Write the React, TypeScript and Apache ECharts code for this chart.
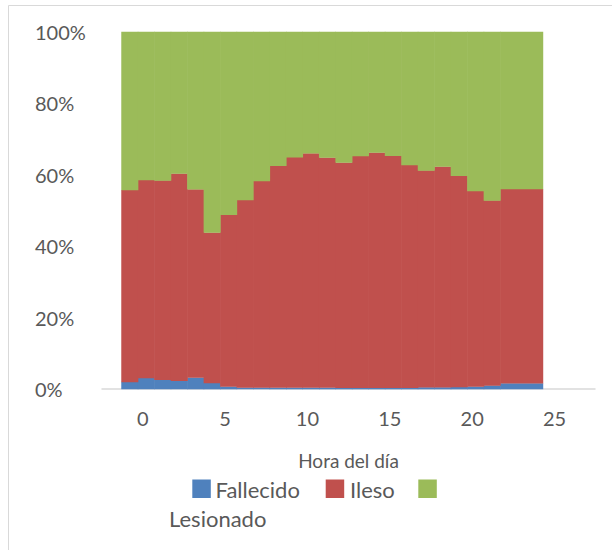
import React, { useEffect, useRef } from "react";
import * as echarts from "echarts";

const hours = [0, 1, 2, 3, 4, 5, 6, 7, 8, 9, 10, 11, 12, 13, 14, 15, 16, 17, 18, 19, 20, 21, 22, 23];
const fallecido = [2.0, 3.1, 2.6, 2.3, 3.2, 1.7, 0.7, 0.4, 0.4, 0.4, 0.4, 0.4, 0.4, 0.35, 0.35, 0.35, 0.35, 0.35, 0.5, 0.5, 0.6, 0.7, 1.0, 1.6];
const ileso = [53.7, 55.4, 55.8, 58.0, 52.7, 42.1, 48.1, 52.5, 57.8, 62.1, 64.5, 65.6, 64.4, 63.05, 64.85, 65.85, 64.95, 62.35, 60.7, 61.8, 59.1, 54.7, 51.8, 54.4];
const lesionado = [44.3, 41.5, 41.6, 39.7, 44.1, 56.2, 51.2, 47.1, 41.8, 37.5, 35.1, 34.0, 35.2, 36.6, 34.8, 33.8, 34.7, 37.3, 38.8, 37.7, 40.3, 44.6, 47.2, 44.0];
const seriesNames = ["Fallecido", "Ileso", "Lesionado"];
const xTickValues = [0, 5, 10, 15, 20, 25];
const yTickValues = [0, 20, 40, 60, 80, 100];

const COLORS = ["#4F81BD", "#C0504D", "#9BBB59"];
const BAR_OFFSET = -1.3;
const LAST_END = 24.28;
const FONT = "Lato, 'Open Sans', sans-serif";

export default function App() {
  const ref = useRef<HTMLDivElement>(null);
  useEffect(() => {
    if (!ref.current) return;
    const chart = echarts.init(ref.current, null, { renderer: "svg" });
    const layers = [fallecido, ileso, lesionado];
    const cum = hours.map(() => 0);
    const series = layers.map((vals, si) => {
      const data = hours.map((h, i) => {
        const x0 = h + BAR_OFFSET;
        const x1 = i === hours.length - 1 ? LAST_END : x0 + 1;
        const base = cum[i];
        const top = base + vals[i];
        cum[i] = top;
        return [x0, x1, base, top];
      });
      return {
        type: "custom",
        name: seriesNames[si],
        data,
        encode: { x: [0, 1], y: [2, 3] },
        itemStyle: { color: COLORS[si] },
        renderItem: (params: any, api: any) => {
          const p0 = api.coord([api.value(0), api.value(2)]);
          const p1 = api.coord([api.value(1), api.value(3)]);
          return {
            type: "rect",
            shape: { x: p0[0], y: p1[1], width: p1[0] - p0[0] + 0.6, height: p0[1] - p1[1] + 0.3 },
            style: { fill: COLORS[si] },
          };
        },
      };
    });
    const legendItems = [
      { x: 192.3, name: seriesNames[0], tx: 215.5 },
      { x: 325.7, name: seriesNames[1], tx: 350 },
      { x: 418.3, name: "", tx: 0 },
    ];
    const graphic: any[] = [
      {
        type: "polyline",
        shape: { points: [[8.5, 560], [8.5, 5.5], [620, 5.5]] },
        style: { stroke: "#D9D9D9", fill: "none", lineWidth: 1 },
        silent: true,
      },
    ];
    legendItems.forEach((it, i) => {
      graphic.push({ type: "rect", shape: { x: it.x, y: 479.5, width: 18.5, height: 18.5 }, style: { fill: COLORS[i] } });
      if (it.name) {
        graphic.push({
          type: "text",
          x: it.tx,
          y: 489,
          style: { text: it.name, fill: "#595959", font: `22px ${FONT}`, textVerticalAlign: "middle" },
        });
      }
    });
    graphic.push({
      type: "text",
      x: 169,
      y: 518.5,
      style: { text: seriesNames[2], fill: "#595959", font: `22px ${FONT}`, textVerticalAlign: "middle" },
    });
    chart.setOption({
      animation: false,
      backgroundColor: "#ffffff",
      grid: { left: 102, right: 17, top: 31.7, bottom: 161, containLabel: false },
      xAxis: {
        type: "value",
        min: -2.47,
        max: 27.46,
        name: "Hora del día",
        nameLocation: "middle",
        nameGap: 62,
        nameTextStyle: { color: "#595959", fontSize: 19, fontFamily: FONT },
        axisLine: { show: true, lineStyle: { color: "#D9D9D9", width: 1.5 } },
        axisTick: { show: false },
        splitLine: { show: false },
        axisLabel: {
          customValues: xTickValues,
          color: "#595959",
          fontSize: 20,
          fontFamily: FONT,
          margin: 19,
        },
      },
      yAxis: {
        type: "value",
        min: 0,
        max: 100,
        interval: 20,
        axisLine: { show: false },
        axisTick: { show: false },
        splitLine: { show: false },
        axisLabel: {
          customValues: yTickValues,
          formatter: "{value}%",
          color: "#595959",
          fontSize: 20,
          fontFamily: FONT,
          align: "left",
          margin: 67,
        },
      },
      graphic,
      series,
    });
    return () => chart.dispose();
  }, []);
  return <div ref={ref} style={{ position: "fixed", left: 0, top: 0, width: 612, height: 550 }} />;
}
